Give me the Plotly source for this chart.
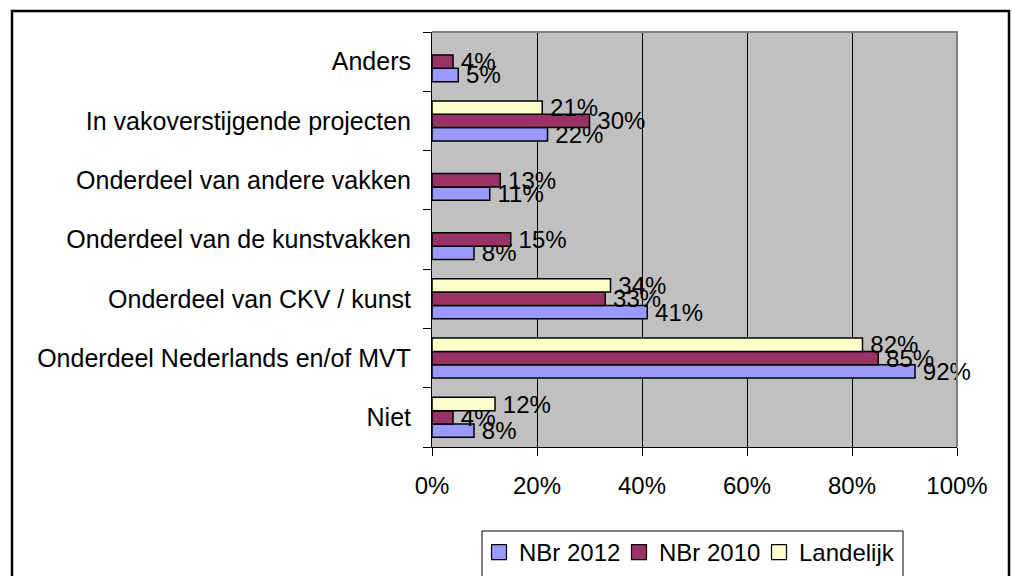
import plotly.graph_objects as go

categories = [
    "Niet",
    "Onderdeel Nederlands en/of MVT",
    "Onderdeel van CKV / kunst",
    "Onderdeel van de kunstvakken",
    "Onderdeel van andere vakken",
    "In vakoverstijgende projecten",
    "Anders",
]
nbr_2012 = [8, 92, 41, 8, 11, 22, 5]
nbr_2010 = [4, 85, 33, 15, 13, 30, 4]
landelijk = [12, 82, 34, None, None, 21, None]
x_ticks = [0, 20, 40, 60, 80, 100]
x_tick_labels = ["0%", "20%", "40%", "60%", "80%", "100%"]

FONT = "Liberation Sans, Arial, sans-serif"
FS = 24

series = [
    ("NBr 2012", nbr_2012, "#9999FF"),
    ("NBr 2010", nbr_2010, "#993366"),
    ("Landelijk", landelijk, "#FFFFCC"),
]

fig = go.Figure()
for name, vals, color in series:
    fig.add_trace(go.Bar(
        y=categories, x=vals, name=name, orientation="h",
        marker=dict(color=color, line=dict(color="black", width=1.5)),
        text=[("\u2009" + f"{v}%" if v is not None else "") for v in vals],
        textposition="outside", constraintext="none", cliponaxis=False,
        textfont=dict(family=FONT, size=FS, color="black"),
        showlegend=False, legendgroup=name,
    ))
# legend entries with larger square keys
for name, vals, color in series:
    fig.add_trace(go.Scatter(
        x=[None], y=[None], mode="markers", name=name, legendgroup=name,
        marker=dict(symbol="square", size=15, color=color,
                    line=dict(color="black", width=1.2)),
        hoverinfo="skip",
    ))

W, H = 1012, 576
# plot area in window pixels
PX0, PX1, PY0, PY1 = 432, 957, 32, 447
L, R, T, B = PX0, W - PX1, PY0, H - PY1
pw, ph = PX1 - PX0, PY1 - PY0

def px(x):
    return (x - PX0) / pw

def py(y):
    return (PY1 - y) / ph

fig.update_layout(
    width=W, height=H,
    margin=dict(l=L, r=R, t=T, b=B, pad=0, autoexpand=False),
    paper_bgcolor="white", plot_bgcolor="#C0C0C0",
    barmode="group", bargap=0.325, bargroupgap=0,
    font=dict(family=FONT, size=FS, color="black"),
    showlegend=True,
    legend=dict(
        orientation="h", x=px(479), xanchor="left", y=py(530), yanchor="top",
        bgcolor="rgba(0,0,0,0)", borderwidth=0,
        font=dict(family=FONT, size=FS, color="black"),
        traceorder="normal", entrywidth=95,
    ),
    xaxis=dict(
        range=[0, 100], tickvals=x_ticks, ticktext=x_tick_labels,
        showgrid=True, gridcolor="black", gridwidth=1,
        showline=True, linecolor="black", linewidth=1,
        ticks="outside", ticklen=8, tickcolor="black",
        ticklabelstandoff=9, zeroline=False, fixedrange=True,
        tickfont=dict(family=FONT, size=FS, color="black"),
    ),
    yaxis=dict(
        categoryorder="array", categoryarray=categories,
        showline=True, linecolor="black", linewidth=1,
        ticks="outside", ticklen=8, tickcolor="black", tickson="boundaries",
        showgrid=False, ticklabelstandoff=15, fixedrange=True,
        tickfont=dict(family=FONT, size=25, color="black"),
    ),
    shapes=[
        # gray top/right border of plot area
        dict(type="path", xref="paper", yref="paper",
             path="M 0,1 L 1,1 L 1,0", line=dict(color="#808080", width=2),
             layer="above"),
        # outer chart border
        dict(type="rect", xref="paper", yref="paper",
             x0=px(12), x1=px(1009), y0=py(620), y1=py(11),
             line=dict(color="black", width=2.5), layer="below"),
        # legend box
        dict(type="rect", xref="paper", yref="paper",
             x0=px(482), x1=px(903), y0=py(620), y1=py(531),
             line=dict(color="black", width=1), fillcolor="white", layer="below"),
    ],
)

fig.write_html(
    "out.html",
    config={"displayModeBar": False, "staticPlot": True},
    post_script=(
        "document.body.style.margin='0px';"
        "document.body.style.overflow='hidden';"
        "document.documentElement.style.overflow='hidden';"
    ),
)
